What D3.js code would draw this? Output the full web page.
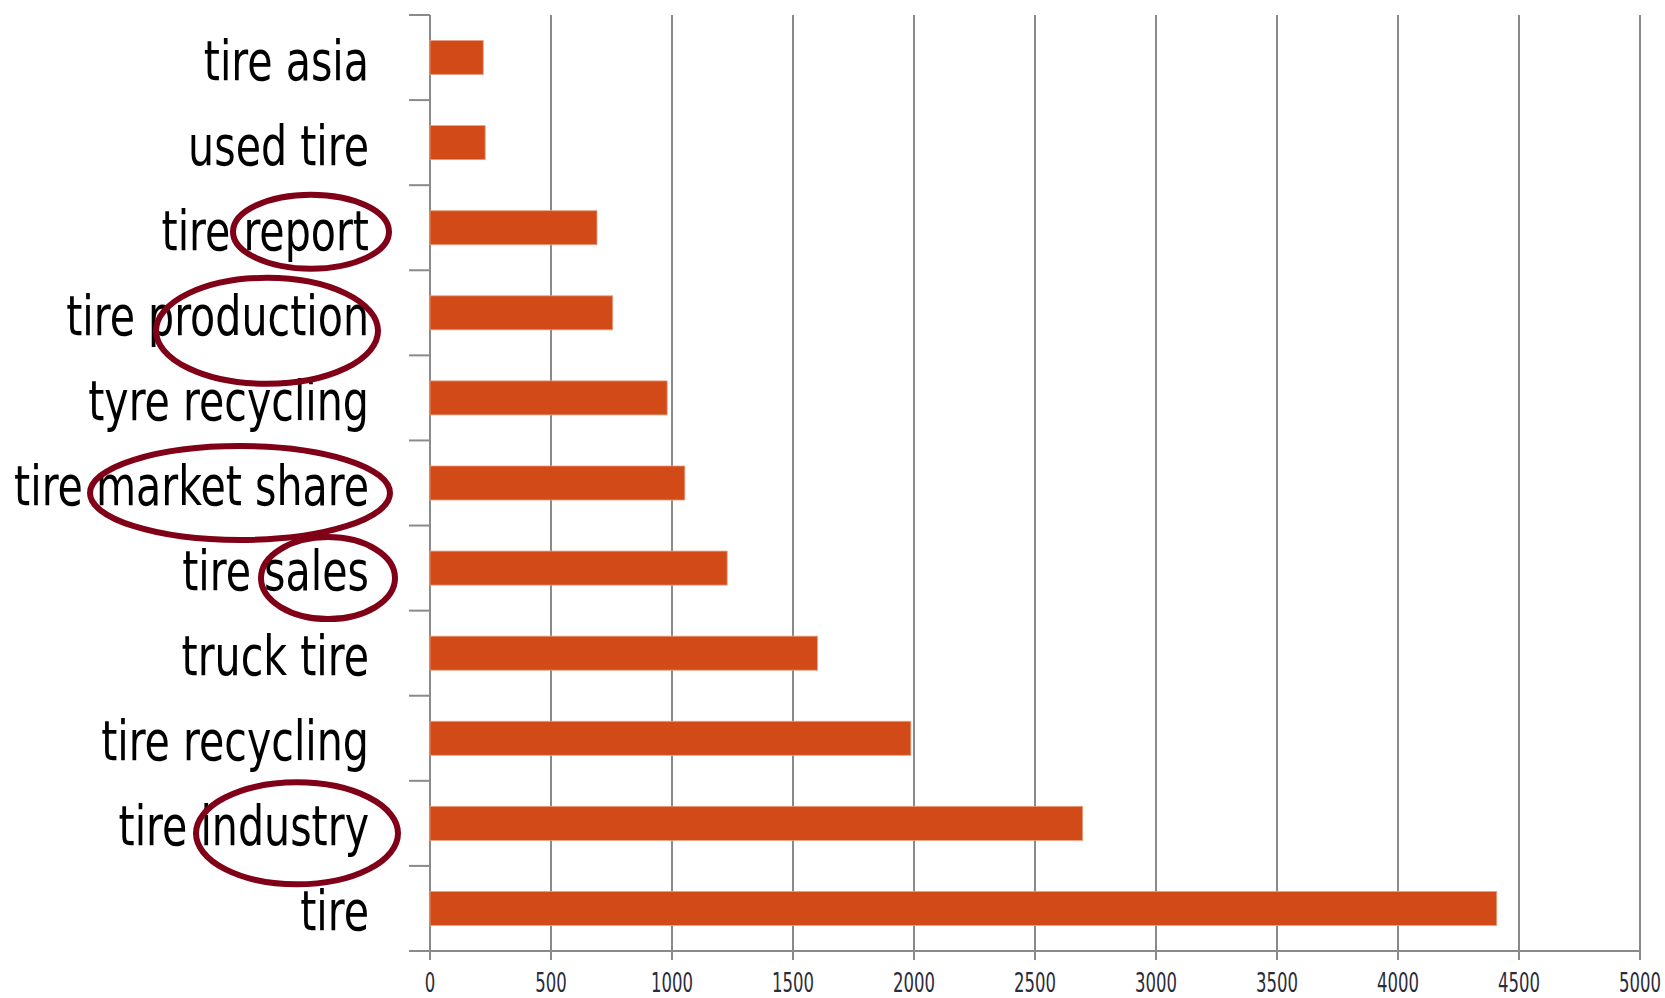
<!DOCTYPE html>
<html lang="en">

<head>
    <meta charset="UTF-8">
    <title>Tire keywords</title>
    <script src="https://cdn.jsdelivr.net/npm/d3@7/dist/d3.min.js"></script>

    <style type="text/css">

        body {
            margin: 0;
            background: #ffffff;
        }

        .bar {
            fill: #d14a18;
            stroke: #e8a080;
            stroke-width: 0.8;
        }

        .grid, .axisLine {
            stroke: #8a8a8a;
            stroke-width: 2;
        }

        .catLabel {
            font-family: "Liberation Sans Narrow", "DejaVu Sans Condensed", "Roboto", sans-serif;
            font-size: 56px;
            fill: #000000;
        }

        .tickLabel {
            font-family: "Liberation Sans Narrow", "DejaVu Sans Condensed", "Roboto", sans-serif;
            font-size: 26px;
            fill: #2b2b3a;
        }

        .circled {
            fill: none;
            stroke: #800018;
            stroke-width: 6;
        }

    </style>

</head>

<body>

    <svg id="chart"></svg>

    <script>

        // Sizes of the SVG
        var width = 1665;
        var height = 998;

        // Keywords, top to bottom, and their counts
        var categories = ["tire asia", "used tire", "tire report", "tire production", "tyre recycling",
            "tire market share", "tire sales", "truck tire", "tire recycling", "tire industry", "tire"];
        var values = [220, 228, 690, 755, 980, 1053, 1228, 1601, 1987, 2697, 4408];

        // X axis ticks
        var xTicks = [0, 500, 1000, 1500, 2000, 2500, 3000, 3500, 4000, 4500, 5000];

        // Hand drawn circles round some words (label, offset from row centre, centre x, radii)
        var circles = [
            {label: "tire report", dy: 4, cx: 311, rx: 78, ry: 37},
            {label: "tire production", dy: 18, cx: 267, rx: 111, ry: 53},
            {label: "tire market share", dy: 10, cx: 240, rx: 150, ry: 47},
            {label: "tire sales", dy: 10, cx: 328, rx: 67, ry: 41},
            {label: "tire industry", dy: 10, cx: 297, rx: 101, ry: 51}
        ];

        var margin = {top: 15, right: 25, bottom: 47, left: 430};

        var svg = d3.select("#chart")
            .attr("width", width)
            .attr("height", height);

        var x = d3.scaleLinear()
            .domain([0, 5000])
            .range([margin.left, width - margin.right]);

        var y = d3.scaleBand()
            .domain(categories)
            .range([margin.top, height - margin.bottom])
            .paddingInner(0.6)
            .paddingOuter(0.3);

        var step = y.step();
        var bottom = height - margin.bottom;

        // vertical grid lines
        svg.selectAll("line.grid")
            .data(xTicks.slice(1))
            .enter()
            .append("line")
            .attr("class", "grid")
            .attr("x1", function (d) { return x(d); })
            .attr("x2", function (d) { return x(d); })
            .attr("y1", margin.top)
            .attr("y2", bottom + 9);

        // y axis with ticks between the rows
        svg.append("line")
            .attr("class", "axisLine")
            .attr("x1", x(0)).attr("x2", x(0))
            .attr("y1", margin.top).attr("y2", bottom + 9);

        svg.selectAll("line.yTick")
            .data(categories)
            .enter()
            .append("line")
            .attr("class", "axisLine")
            .attr("x1", x(0) - 21)
            .attr("x2", x(0))
            .attr("y1", function (d) { return y(d) - step * 0.3; })
            .attr("y2", function (d) { return y(d) - step * 0.3; });

        // x axis line
        svg.append("line")
            .attr("class", "axisLine")
            .attr("x1", x(0) - 21)
            .attr("x2", x(5000))
            .attr("y1", bottom).attr("y2", bottom);

        // bars
        svg.selectAll("rect.bar")
            .data(values)
            .enter()
            .append("rect")
            .attr("class", "bar")
            .attr("x", x(0))
            .attr("y", function (d, i) { return y(categories[i]); })
            .attr("width", function (d) { return x(d) - x(0); })
            .attr("height", y.bandwidth());

        // category labels, squeezed to look like the narrow font of the picture
        var labels = svg.selectAll("text.catLabel")
            .data(categories)
            .enter()
            .append("text")
            .attr("class", "catLabel")
            .attr("text-anchor", "end")
            .text(function (d) { return d; });

        var widest = labels.filter(function (d) { return d === "tire market share"; }).node().getComputedTextLength();
        var sx = 355 / widest;
        labels.attr("transform", function (d) {
            return "translate(369," + (y(d) + y.bandwidth() / 2 + 22) + ") scale(" + sx + ",1)";
        });

        // x tick labels
        var tl = svg.selectAll("text.tickLabel")
            .data(xTicks)
            .enter()
            .append("text")
            .attr("class", "tickLabel")
            .attr("text-anchor", "middle")
            .text(function (d) { return d; });

        var w1000 = tl.filter(function (d) { return d === 1000; }).node().getComputedTextLength();
        var tsx = 42 / w1000;
        tl.attr("transform", function (d) {
            return "translate(" + x(d) + "," + (bottom + 41) + ") scale(" + tsx + ",1)";
        });

        // circles round the words
        svg.selectAll("ellipse.circled")
            .data(circles)
            .enter()
            .append("ellipse")
            .attr("class", "circled")
            .attr("cx", function (d) { return d.cx; })
            .attr("cy", function (d) { return y(d.label) + y.bandwidth() / 2 + d.dy; })
            .attr("rx", function (d) { return d.rx; })
            .attr("ry", function (d) { return d.ry; });

    </script>

</body>

</html>
